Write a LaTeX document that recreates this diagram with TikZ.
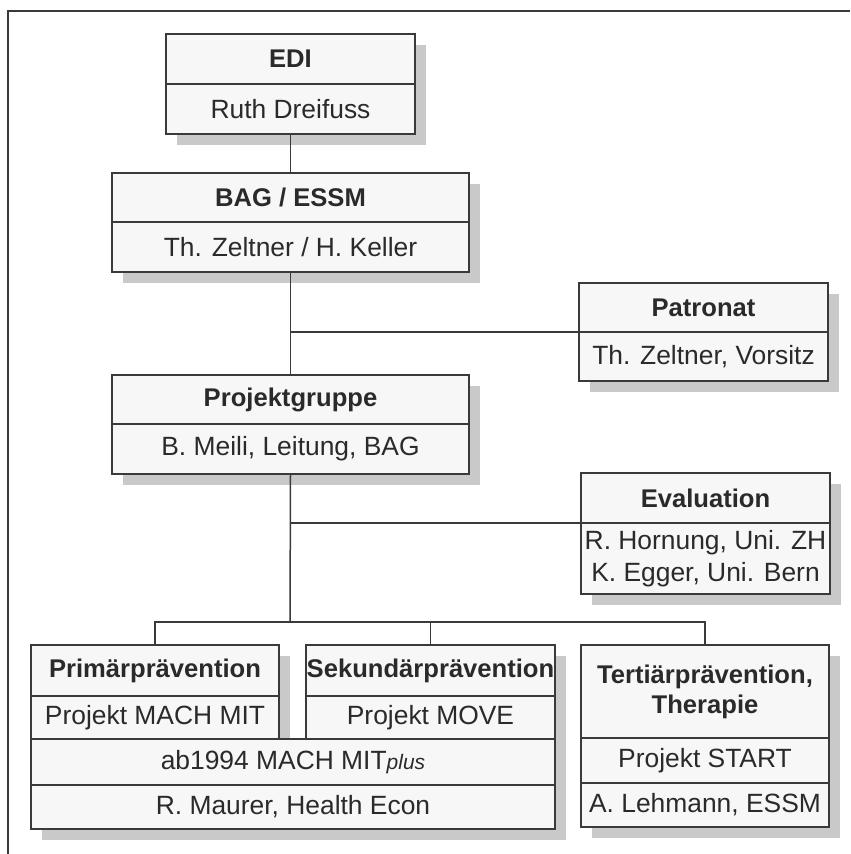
\documentclass[tikz,border=0pt]{standalone}
\usepackage{fontspec}
\setmainfont{Liberation Sans}
\usepackage{xcolor}
\usetikzlibrary{
  positioning,
  shadows
}
\definecolor{linec}{HTML}{3A3A3A}
\definecolor{textc}{HTML}{2A2A2A}
\definecolor{boxc}{HTML}{F7F7F7}
\definecolor{shadowc}{HTML}{C9C9C9}

\begin{document}
\begin{tikzpicture}[
  x=0.5pt, y=-0.5pt,
  every node/.style={font=\fontsize{13.2}{16}\selectfont, text=textc},
  box/.style={draw=linec, fill=boxc, line width=0.75pt, inner sep=0pt, outer sep=0pt,
    align=center, drop shadow={shadow xshift=5.5pt, shadow yshift=-5.5pt, fill=shadowc, opacity=1}},
  hd/.style={box, font=\fontsize{12.8}{15}\selectfont\bfseries},
  link/.style={draw=linec, line width=0.75pt}
]
  \useasboundingbox (0,0) rectangle (850,854);

  % frame
  \draw[link] (8,854) -- (8,11) -- (850,11);

  % top of the chart
  \node[hd, anchor=north west, minimum width=124.5pt, minimum height=25pt] (edi) at (166,34) {EDI};
  \node[box, below=0pt of edi, minimum width=124.5pt, minimum height=25pt] (edi-p) {Ruth Dreifuss};

  \node[hd, anchor=north west, minimum width=178.5pt, minimum height=24.5pt] (bag) at (112,173) {BAG / ESSM};
  \node[box, below=0pt of bag, minimum width=178.5pt, minimum height=25pt] (bag-p) {Th. Zeltner / H. Keller};

  \node[hd, anchor=north west, minimum width=124.5pt, minimum height=24.5pt] (pat) at (579,283) {Patronat};
  \node[box, below=0pt of pat, minimum width=124.5pt, minimum height=24.5pt] (pat-p) {Th. Zeltner, Vorsitz};

  \node[hd, anchor=north west, minimum width=178.5pt, minimum height=24.5pt] (proj) at (112,375) {Projektgruppe};
  \node[box, below=0pt of proj, minimum width=178.5pt, minimum height=25pt] (proj-p) {B. Meili, Leitung, BAG};

  \node[hd, anchor=north west, minimum width=124.5pt, minimum height=25pt] (eval) at (581,473) {Evaluation};
  \node[box, below=0pt of eval, minimum width=124.5pt, minimum height=35.5pt] (eval-p) {R. Hornung, Uni. ZH\\K. Egger, Uni. Bern};

  % projects
  \node[hd, anchor=north west, minimum width=124pt, minimum height=25.5pt] (prim) at (31,645) {Primärprävention};
  \node[box, below=0pt of prim, minimum width=124pt, minimum height=21.5pt] (prim-p) {Projekt MACH MIT};

  \node[hd, anchor=north west, minimum width=124.5pt, minimum height=25.5pt] (sek) at (306,645) {Sekundärprävention};
  \node[box, below=0pt of sek, minimum width=124.5pt, minimum height=21.5pt] (sek-p) {Projekt MOVE};

  \node[box, anchor=north west, minimum width=262pt, minimum height=23pt] (plus) at (prim-p.south west) {ab1994 MACH MIT{\fontsize{10.5}{12}\selectfont\itshape plus}};
  \node[box, below=0pt of plus, minimum width=262pt, minimum height=22pt] (plus-p) {R. Maurer, Health Econ};

  \node[hd, anchor=north west, minimum width=124pt, minimum height=46.5pt] (tert) at (581,645) {Tertiärprävention,\\Therapie};
  \node[box, below=0pt of tert, minimum width=124pt, minimum height=22.5pt] (tert-p) {Projekt START};
  \node[box, below=0pt of tert-p, minimum width=124pt, minimum height=22pt] (tert-l) {A. Lehmann, ESSM};

  % connectors
  \draw[link] (edi-p.south) -- (bag.north);
  \draw[link] (bag-p.south) -- (proj.north);
  \draw[link] (pat.south west) -- (bag-p.south |- pat.south west);
  \draw[link] (eval.south west) -- (proj-p.south |- eval.south west);
  \coordinate (bus) at (290,622);
  \draw[link] (proj-p.south) -- (bus);
  \draw[link] (prim.north) |- (bus) -| (tert.north);
  \draw[link] (sek.north) -- (sek.north |- bus);

\end{tikzpicture}
\end{document}
